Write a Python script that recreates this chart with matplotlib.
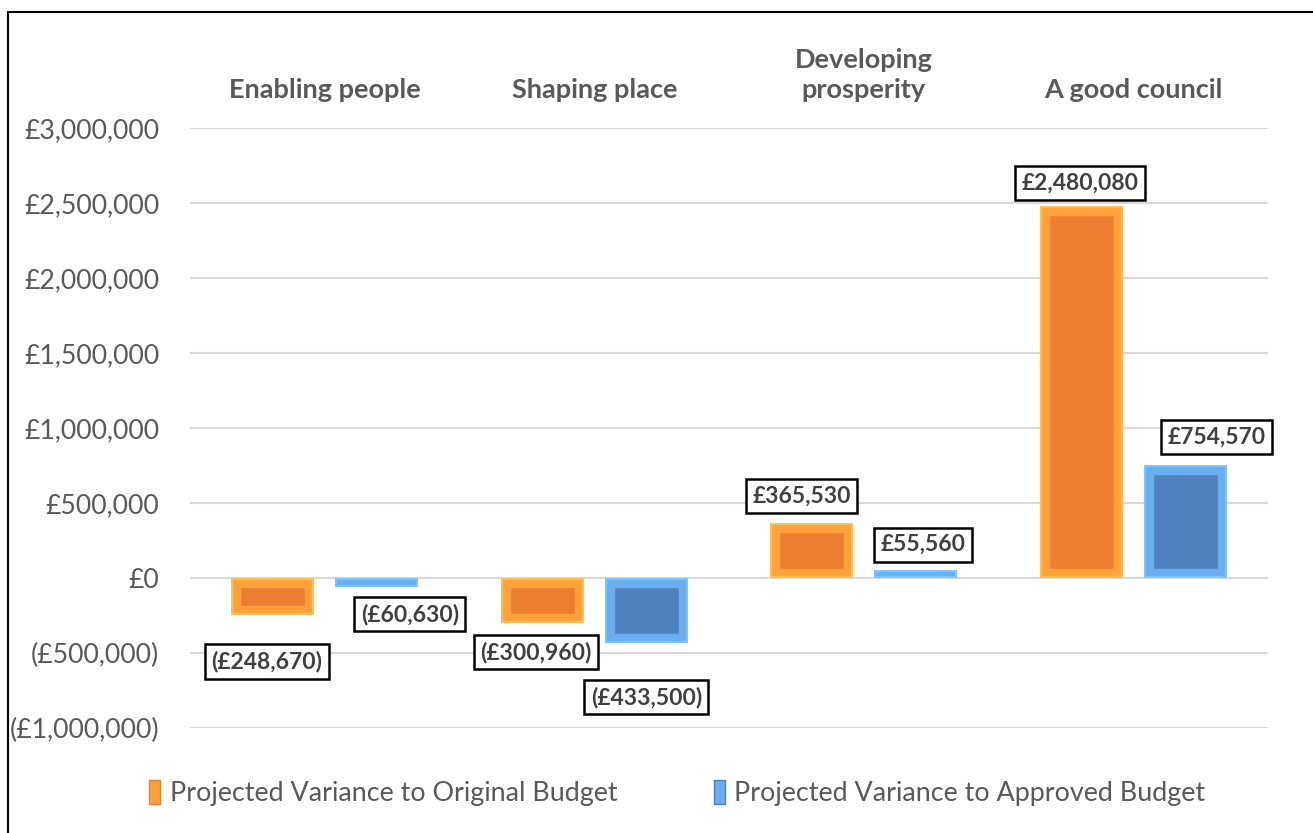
import matplotlib.pyplot as plt
import numpy as np
from matplotlib.patches import Patch, Rectangle
from matplotlib.ticker import FuncFormatter

categories = ["Enabling people", "Shaping place", "Developing\nprosperity", "A good council"]
original_var = [-248670, -300960, 365530, 2480080]
approved_var = [-60630, -433500, 55560, 754570]
series_names = ["Projected Variance to Original Budget", "Projected Variance to Approved Budget"]

# label nudges in pixels (dx, dy) relative to bar end, Excel-style manual placement
orig_offsets = [(-6, -46), (-6, -29), (-10, 27), (-1, 23)]
appr_offsets = [(33, -27), (0, -54), (7, 25), (31, 28)]

plt.rcParams['font.family'] = ['Lato', 'DejaVu Sans']
grey = "#595959"


def money(v, pos=None):
    if v == 0:
        return "£0"
    if v < 0:
        return "(£{:,.0f})".format(-v)
    return "£{:,.0f}".format(v)


fig = plt.figure(figsize=(13.13, 8.33), dpi=100)
ax = fig.add_axes([190 / 1313, 105 / 833, 1078 / 1313, 600 / 833])

x = np.arange(len(categories))
w = 0.308
off = 0.193

styles = [
    ("#ED7D31", "#FFA23C", "#FFC04D"),
    ("#4E81BD", "#6AADF0", "#7CC4FF"),
]

bar_sets = []
for vals, dx, (face, edge, light) in zip([original_var, approved_var], [-off, off], styles):
    bars = ax.bar(x + dx, vals, width=w, color=face, edgecolor=edge, linewidth=14, zorder=3)
    for p in bars:
        p.set_clip_path(p)
    # thin outer rim
    rim = ax.bar(x + dx, vals, width=w, color="none", edgecolor=light, linewidth=3, zorder=4)
    for p in rim:
        p.set_clip_path(p)
    bar_sets.append(bars)

ax.set_ylim(-1000000, 3000000)
ax.set_xlim(-0.5, len(categories) - 0.5)
ax.set_yticks(np.arange(-1000000, 3000001, 500000))
ax.yaxis.set_major_formatter(FuncFormatter(money))
ax.grid(axis="y", color="#D9D9D9", linewidth=1.5, zorder=0)
ax.set_axisbelow(True)
for s in ax.spines.values():
    s.set_visible(False)
ax.tick_params(axis="y", length=0, labelsize=19.2, labelcolor=grey, pad=22)

ax.xaxis.tick_top()
ax.set_xticks(x)
ax.set_xticklabels(categories, fontsize=19.5, fontweight="bold", color=grey, linespacing=1.3)
ax.tick_params(axis="x", length=0, pad=19)

for bars, vals, offs in zip(bar_sets, [original_var, approved_var], [orig_offsets, appr_offsets]):
    for p, v, (ox, oy) in zip(bars, vals, offs):
        cx = p.get_x() + p.get_width() / 2
        ax.annotate(money(v), (cx, v), xytext=(ox * 0.72, oy * 0.72), textcoords="offset points",
                    ha="center", va="center", fontsize=16.5, fontweight="bold", color="#404040",
                    bbox=dict(boxstyle="square,pad=0.28", fc="white", ec="black", lw=1.8), zorder=6)

handles = [Patch(facecolor=styles[0][1], edgecolor=styles[0][0]),
           Patch(facecolor=styles[1][1], edgecolor=styles[1][0])]
leg = fig.legend(handles, series_names, loc="center", bbox_to_anchor=(0.516, 0.048), ncol=2,
                 frameon=False, fontsize=19.4, handlelength=0.4, handleheight=1.0,
                 handletextpad=0.35, columnspacing=3.6)
for t in leg.get_texts():
    t.set_color(grey)

fig.patches.append(Rectangle((8 / 1313, -0.1), 1.2, (833 - 12) / 833 + 0.1, transform=fig.transFigure,
                             fill=False, edgecolor="black", linewidth=1.5))

fig.savefig("out.png", dpi=100)
